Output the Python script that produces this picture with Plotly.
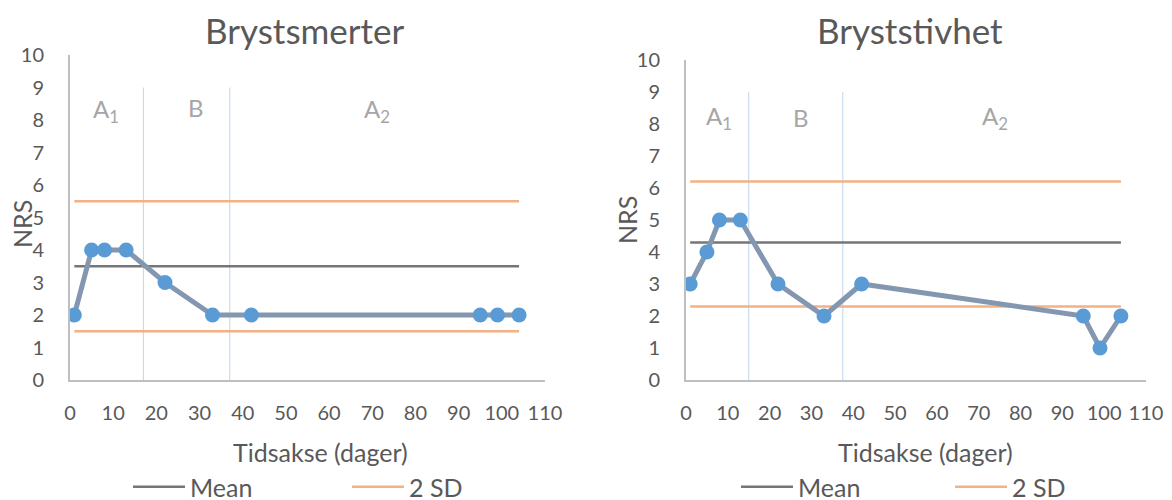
import plotly.graph_objects as go

# ---- data ----
days = [1, 5, 8, 13, 22, 33, 42, 95, 99, 104]
smerter = [2, 4, 4, 4, 3, 2, 2, 2, 2, 2]
stivhet = [3, 4, 5, 5, 3, 2, 3, 2, 1, 2]

ref_days = [1, 104]
smerter_mean = [3.5, 3.5]
smerter_sd_hi = [5.5, 5.5]
smerter_sd_lo = [1.5, 1.5]
stivhet_mean = [4.3, 4.3]
stivhet_sd_hi = [6.2, 6.2]
stivhet_sd_lo = [2.3, 2.3]

phase_smerter = [17, 37]
phase_stivhet = [15, 37.5]
phase_y = [0, 9]

x_ticks = list(range(0, 111, 10))
y_ticks = list(range(0, 11))

titles = ["Brystsmerter", "Bryststivhet"]
x_title = "Tidsakse (dager)"
y_title = "NRS"
phase_labels = ["A<sub>1</sub>", "B", "A<sub>2</sub>"]

# ---- style ----
FONT = "Lato, 'Open Sans', sans-serif"
TXT = "#595959"
SERIES_LINE = "#8497B0"
MARKER = "#5B9BD5"
MEAN_C = "#767676"
SD_C = "#F4B183"
PHASE_C = "#BDD7EE"
AXIS_C = "#BFBFBF"
LABEL_C = "#A6A6A6"

# page has an 8px body margin: draw the figure 8px smaller and offset coordinates
OFF = 8
W, H = 1172 - OFF, 500 - OFF
fig = go.Figure()

def px2x(px):
    return (px - OFF) / W

def px2y(py):
    return 1 - (py - OFF) / H

panels = [
    dict(xa="x", ya="y", lg=("legend", "legend2"), vals=smerter, mean=smerter_mean,
         hi=smerter_sd_hi, lo=smerter_sd_lo, phase=phase_smerter),
    dict(xa="x2", ya="y2", lg=("legend3", "legend4"), vals=stivhet, mean=stivhet_mean,
         hi=stivhet_sd_hi, lo=stivhet_sd_lo, phase=phase_stivhet),
]

for p in panels:
    for px in p["phase"]:
        fig.add_trace(go.Scatter(x=[px, px], y=phase_y, mode="lines",
                                 line=dict(color=PHASE_C, width=1),
                                 xaxis=p["xa"], yaxis=p["ya"], showlegend=False,
                                 hoverinfo="skip"))
    fig.add_trace(go.Scatter(x=ref_days, y=p["mean"], mode="lines", name="Mean",
                             line=dict(color=MEAN_C, width=2.5),
                             xaxis=p["xa"], yaxis=p["ya"], legend=p["lg"][0]))
    fig.add_trace(go.Scatter(x=ref_days, y=p["hi"], mode="lines", name="2 SD",
                             line=dict(color=SD_C, width=2.5), legendgroup="sd" + p["xa"],
                             xaxis=p["xa"], yaxis=p["ya"], legend=p["lg"][1]))
    fig.add_trace(go.Scatter(x=ref_days, y=p["lo"], mode="lines", name="2 SD",
                             line=dict(color=SD_C, width=2.5), legendgroup="sd" + p["xa"],
                             xaxis=p["xa"], yaxis=p["ya"], showlegend=False))
    fig.add_trace(go.Scatter(x=days, y=p["vals"], mode="lines+markers",
                             line=dict(color=SERIES_LINE, width=5),
                             marker=dict(color=MARKER, size=15),
                             xaxis=p["xa"], yaxis=p["ya"], showlegend=False))

TICKFONT = dict(size=20, color=TXT, family=FONT)
xaxis_common = dict(range=[0, 110], tickvals=x_ticks, showline=True, linecolor=AXIS_C,
                    linewidth=2, showgrid=False, zeroline=False, ticks="",
                    ticklabelstandoff=14, tickfont=TICKFONT, fixedrange=True, automargin=False)
yaxis_common = dict(range=[0, 10], tickvals=y_ticks, showline=True, linecolor=AXIS_C,
                    linewidth=2, showgrid=False, zeroline=False, ticks="",
                    ticklabelstandoff=20, tickfont=TICKFONT, fixedrange=True, automargin=False)

def leg(xpx):
    return dict(orientation="h", x=px2x(xpx), y=px2y(487), xanchor="left", yanchor="middle",
                font=dict(size=25, color=TXT, family=FONT), bgcolor="rgba(0,0,0,0)",
                itemwidth=52, borderwidth=0)

fig.update_layout(
    template="none",
    width=W, height=H,
    margin=dict(l=0, r=0, t=0, b=0, autoexpand=False),
    paper_bgcolor="white", plot_bgcolor="white",
    font=dict(family=FONT, color=TXT),
    xaxis=dict(domain=[px2x(70), px2x(545)], anchor="y", **xaxis_common),
    yaxis=dict(domain=[px2y(380), px2y(55)], anchor="x", **yaxis_common),
    xaxis2=dict(domain=[px2x(686), px2x(1146)], anchor="y2", **xaxis_common),
    yaxis2=dict(domain=[px2y(380), px2y(60)], anchor="x2", **yaxis_common),
    legend=leg(128), legend2=leg(347), legend3=leg(736), legend4=leg(950),
    showlegend=True,
)

def label(text, xpx, ypx, size, angle=0):
    return dict(text=text, x=px2x(xpx), y=px2y(ypx), xref="paper", yref="paper",
                xanchor="center", yanchor="middle", textangle=angle, showarrow=False,
                font=dict(size=size, color=TXT, family=FONT))

ann = [
    label(titles[0], 305, 30, 35),
    label(titles[1], 910, 30, 35),
    label(x_title, 320, 452, 25),
    label(x_title, 925, 452, 25),
    label(y_title, 22, 224, 25, -90),
    label(y_title, 627, 220, 25, -90),
]
lab_pos = [
    ("x", "y", [(8.3, 8.3), (29.2, 8.4), (71, 8.3)]),
    ("x2", "y2", [(8.0, 8.2), (27.5, 8.2), (74, 8.2)]),
]
for xr, yr, pts in lab_pos:
    for lab, (lx, ly) in zip(phase_labels, pts):
        ann.append(dict(text=lab, x=lx, y=ly, xref=xr, yref=yr, showarrow=False,
                        xanchor="center", yanchor="middle",
                        font=dict(size=24, color=LABEL_C, family=FONT)))
fig.update_layout(annotations=ann)

fig.write_html("out.html")
